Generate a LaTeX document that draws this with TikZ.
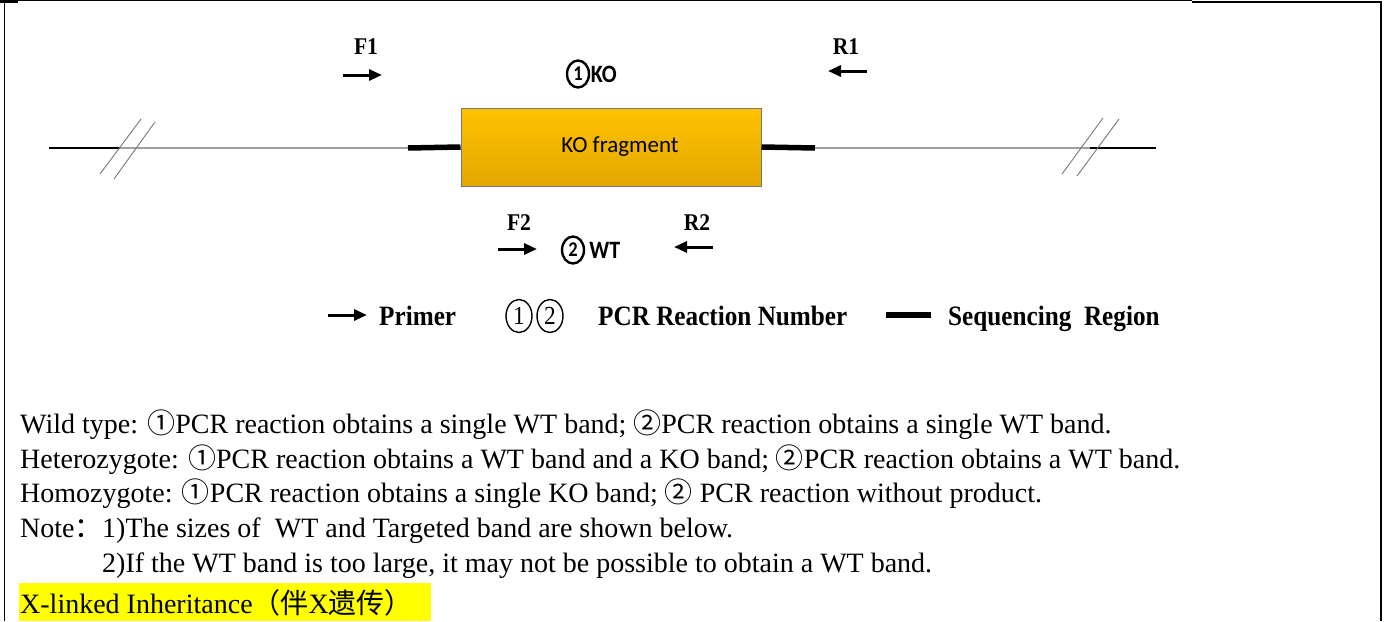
\documentclass[tikz,border=0pt]{standalone}
\usepackage{fontspec}
\setmainfont{Liberation Serif}
\newfontfamily\bodyfont{Liberation Serif}
\newfontfamily\legendfont[FakeStretch=0.9]{Liberation Serif}
\newfontfamily\cjkbody{Noto Sans CJK SC}
\newfontfamily\calibri{Carlito}
\newfontfamily\calibrinarrow[FakeStretch=0.88]{Carlito}
\usetikzlibrary{arrows.meta,shapes.geometric}

\definecolor{kotop}{RGB}{255,194,0}
\definecolor{kobottom}{RGB}{226,168,0}
\definecolor{kodraw}{RGB}{120,120,120}
\definecolor{linegray}{RGB}{160,160,160}
\definecolor{hlyellow}{RGB}{255,255,0}

\newcommand{\cdigit}[1]{{\cjkbody #1}}

\tikzset{
  primer/.style={line width=3pt, -{Triangle[length=13pt,width=11pt]}},
  seqbar/.style={line width=5.5pt},
  backbone/.style={line width=1.6pt, linegray},
  outerline/.style={line width=1.2pt, black},
  breakmark/.style={line width=0.9pt, kodraw},
  kobox/.style={draw=kodraw, line width=1pt, top color=kotop, bottom color=kobottom,
    minimum width=300pt, minimum height=78pt, inner sep=0pt},
  primerlabel/.style={font=\fontsize{24}{24}\selectfont\legendfont\bfseries, inner sep=0pt},
  rxnlabel/.style={font=\fontsize{25}{25}\selectfont\calibrinarrow\bfseries, inner sep=0pt, anchor=west},
  rxnnum/.style={ellipse, draw, line width=2.4pt, minimum width=22pt, minimum height=27pt,
    inner sep=0pt, font=\fontsize{21}{21}\selectfont\calibrinarrow\bfseries},
  legendnum/.style={ellipse, draw, line width=1.4pt, minimum width=26pt, minimum height=33pt,
    inner sep=0pt, font=\fontsize{26}{26}\selectfont\legendfont},
  legendtext/.style={font=\fontsize{28}{28}\selectfont\legendfont\bfseries, anchor=base west, inner sep=0pt},
  bodyline/.style={font=\fontsize{28}{28}\selectfont\bodyfont, anchor=base west, inner sep=0pt},
}

\begin{document}
\begin{tikzpicture}[x=1pt, y=-1pt]
\useasboundingbox (0,0) rectangle (1388,621);
\fill[white] (0,0) rectangle (1388,621);

% frame
\draw[line width=1pt] (4,621) -- (4,0.7) -- (1192,0.7);
\draw[line width=2.5pt] (0,1.5) -- (18,1.5);
\draw[line width=2.5pt] (1192,1.8) -- (1381,1.8) -- (1381,621);

% gene backbone
\node[kobox] (ko) at (611,147) {};
\node[font=\fontsize{23}{23}\selectfont\calibri] (kotext) at (620,147) {KO fragment};
\coordinate (leftend) at (49,148);
\coordinate (leftbreak) at (120,148);
\coordinate (leftseq) at (408,148);
\coordinate (rightseq) at (815,148);
\coordinate (rightbreak) at (1090,148);
\coordinate (rightend) at (1156,148);

\draw[outerline] (leftend) -- (leftbreak);
\draw[backbone] (leftbreak) -- (leftseq);
\draw[seqbar] (leftseq) -- (ko.west);
\draw[seqbar] (ko.east) -- (rightseq);
\draw[backbone] (rightseq) -- (rightbreak);
\draw[outerline] (rightbreak) -- (rightend);

% break marks
\draw[breakmark] (100,174) -- (141,119);
\draw[breakmark] (114,179) -- (155,122);
\draw[breakmark] (1062,174) -- (1103,118);
\draw[breakmark] (1077,176) -- (1119,119);

% primers, reaction 1
\node[primerlabel] (F1) at (366,47) {F1};
\coordinate (F1a) at (343,75);
\coordinate (F1b) at (382,75);
\draw[primer] (F1a) -- (F1b);
\node[primerlabel] (R1) at (846,47) {R1};
\coordinate (R1a) at (867,71);
\coordinate (R1b) at (828,71);
\draw[primer] (R1a) -- (R1b);
\node[rxnnum] (num1) at (578,74) {1};
\node[rxnlabel] (rxn1) at ([xshift=0.5pt]num1.east) {KO};

% primers, reaction 2
\node[primerlabel] (F2) at (519,223) {F2};
\coordinate (F2a) at (498,249);
\coordinate (F2b) at (537,249);
\draw[primer] (F2a) -- (F2b);
\node[primerlabel] (R2) at (697,223) {R2};
\coordinate (R2a) at (713,247);
\coordinate (R2b) at (674,247);
\draw[primer] (R2a) -- (R2b);
\node[rxnnum] (num2) at (573,250) {2};
\node[rxnlabel] (rxn2) at ([xshift=4pt]num2.east) {WT};

% legend
\coordinate (legA) at (328,315);
\coordinate (legB) at (367,315);
\draw[primer] (legA) -- (legB);
\node[legendtext] (primer) at (379,325) {Primer};
\node[legendnum] (leg1) at (519,316) {1};
\node[legendnum] (leg2) at (550,316) {2};
\node[legendtext] (pcrnum) at (598,325) {PCR Reaction Number};
\coordinate (legC) at (886,315);
\coordinate (legD) at (931,315);
\draw[seqbar] (legC) -- (legD);
\node[legendtext] (seqreg) at (948,325) {Sequencing\ \ Region};

% genotype notes
\node[bodyline] (wt) at (20,433) {Wild type: \cdigit{①}PCR reaction obtains a single WT band; \cdigit{②}PCR reaction obtains a single WT band.};
\node[bodyline] (het) at (20,468) {Heterozygote: \cdigit{①}PCR reaction obtains a WT band and a KO band; \cdigit{②}PCR reaction obtains a WT band.};
\node[bodyline] (hom) at (20,502) {Homozygote: \cdigit{①}PCR reaction obtains a single KO band; \cdigit{②} PCR reaction without product.};
\node[bodyline] (note) at (20,537) {Note\cdigit{：}};
\node[bodyline] (note1) at (102,537) {1)The sizes of\ \ WT and Targeted band are shown below.};
\node[bodyline] (note2) at (102,572) {2)If the WT band is too large, it may not be possible to obtain a WT band.};
\fill[hlyellow] (19,583) rectangle (431,621);
\node[bodyline] (xlink) at (20,613) {X-linked Inheritance\cdigit{（伴}X\cdigit{遗传）}};
\end{tikzpicture}
\end{document}
